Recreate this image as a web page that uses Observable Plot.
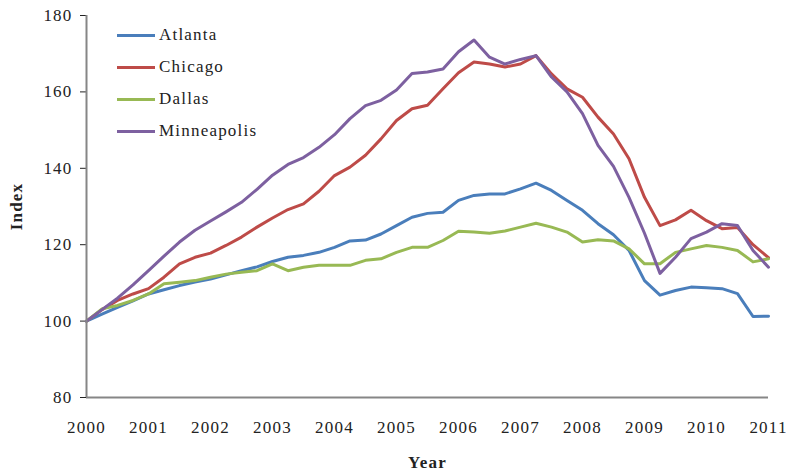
<!DOCTYPE html>
<html>
<head>
<meta charset="utf-8">
<script src="https://cdn.jsdelivr.net/npm/d3@7"></script>
<script src="https://cdn.jsdelivr.net/npm/@observablehq/plot@0.6"></script>
<style>
  body { margin: 0; background: #fff; }
  #wrap { position: relative; width: 787px; height: 475px; font-family: "Liberation Serif", serif; }
  #wrap svg text { letter-spacing: 1.2px; }
  g[aria-label="x-axis label"] text, g[aria-label="y-axis label"] text { font-weight: bold; letter-spacing: 0.5px; }
  #legend { position: absolute; left: 117px; top: 19px; font-size: 17px; letter-spacing: 1.2px; color: #222; }
  .item { display: flex; align-items: center; height: 32px; }
  .sw { width: 38px; height: 3px; margin-right: 4px; }
</style>
</head>
<body>
<div id="wrap"></div>
<script>
const years = [2000, 2000.25, 2000.5, 2000.75, 2001, 2001.25, 2001.5, 2001.75, 2002, 2002.25, 2002.5, 2002.75,
  2003, 2003.25, 2003.5, 2003.75, 2004, 2004.25, 2004.5, 2004.75, 2005, 2005.25, 2005.5, 2005.75,
  2006, 2006.25, 2006.5, 2006.75, 2007, 2007.25, 2007.5, 2007.75, 2008, 2008.25, 2008.5, 2008.75,
  2009, 2009.25, 2009.5, 2009.75, 2010, 2010.25, 2010.5, 2010.75, 2011];

const atlanta = [100, 101.8, 103.6, 105.3, 107.1, 108.2, 109.3, 110.2, 111.0, 112.1, 113.2, 114.2,
  115.6, 116.7, 117.2, 118.0, 119.3, 121.0, 121.2, 122.8, 125.0, 127.2, 128.2, 128.5,
  131.6, 132.9, 133.3, 133.3, 134.6, 136.1, 134.2, 131.6, 129.0, 125.5, 122.6, 118.5,
  110.6, 106.8, 108.0, 108.9, 108.7, 108.5, 107.2, 101.2, 101.3];

const chicago = [100, 103.0, 105.4, 107.1, 108.5, 111.5, 115.0, 116.7, 117.8, 119.8, 122.0, 124.6,
  127.0, 129.2, 130.7, 134.0, 138.1, 140.3, 143.4, 147.7, 152.5, 155.6, 156.5, 160.8,
  165.0, 167.8, 167.3, 166.5, 167.3, 169.5, 164.7, 160.8, 158.6, 153.4, 149.0, 142.5,
  132.4, 125.0, 126.5, 129.0, 126.3, 124.2, 124.5, 120.0, 116.6];

const dallas = [100, 103.2, 104.1, 105.4, 107.1, 109.8, 110.2, 110.6, 111.5, 112.3, 112.8, 113.2,
  115.0, 113.2, 114.1, 114.6, 114.6, 114.6, 115.9, 116.3, 118.0, 119.3, 119.3, 121.1,
  123.5, 123.3, 123.0, 123.6, 124.6, 125.6, 124.6, 123.3, 120.7, 121.3, 121.0, 118.9,
  115.0, 115.0, 118.0, 118.9, 119.8, 119.3, 118.5, 115.5, 116.3];

const minneapolis = [100, 103.0, 106.0, 109.5, 113.2, 117.0, 120.7, 123.8, 126.2, 128.6, 131.1, 134.5,
  138.2, 141.0, 142.8, 145.5, 148.8, 153.0, 156.4, 157.8, 160.5, 164.8, 165.2, 166.0,
  170.5, 173.6, 169.1, 167.3, 168.5, 169.5, 163.9, 160.0, 154.3, 146.0, 140.5, 132.4,
  123.0, 112.5, 116.7, 121.6, 123.3, 125.5, 125.0, 118.5, 114.1];

const cities = ["Atlanta", "Chicago", "Dallas", "Minneapolis"];
const seriesValues = [atlanta, chicago, dallas, minneapolis];
const colors = ["#4a7ebb", "#be4b48", "#98b954", "#7d60a0"];
const yTicks = [80, 100, 120, 140, 160, 180];
const xTicks = [2000, 2001, 2002, 2003, 2004, 2005, 2006, 2007, 2008, 2009, 2010, 2011];

const rows = [];
cities.forEach((c, i) => years.forEach((y, j) => rows.push({city: c, year: y, value: seriesValues[i][j]})));

const chart = Plot.plot({
  width: 787,
  height: 475,
  marginLeft: 86,
  marginRight: 19,
  marginTop: 15,
  marginBottom: 78,
  style: {fontFamily: "Liberation Serif, serif", fontSize: "17px", color: "#222", background: "#fff"},
  x: {domain: [2000, 2011], ticks: xTicks, tickFormat: d => String(d), tickSize: 0, tickPadding: 23,
      label: "Year", labelArrow: "none", labelAnchor: "center", labelOffset: 70},
  y: {domain: [80, 180], ticks: yTicks, tickSize: 6, tickPadding: 8,
      label: "Index", labelArrow: "none", labelAnchor: "center", labelOffset: 77},
  color: {domain: cities, range: colors},
  marks: [
    Plot.line(rows, {x: "year", y: "value", z: "city", stroke: "city", strokeWidth: 3, curve: "linear"}),
    Plot.ruleX([2000], {stroke: "#868686", strokeWidth: 2}),
    Plot.ruleY([80], {stroke: "#868686", strokeWidth: 2})
  ]
});
const wrap = document.getElementById("wrap");
wrap.appendChild(chart);

const legend = document.createElement("div");
legend.id = "legend";
cities.forEach((c, i) => {
  const item = document.createElement("div");
  item.className = "item";
  const sw = document.createElement("div");
  sw.className = "sw";
  sw.style.background = colors[i];
  const t = document.createElement("span");
  t.textContent = c;
  item.appendChild(sw);
  item.appendChild(t);
  legend.appendChild(item);
});
wrap.appendChild(legend);
</script>
</body>
</html>
